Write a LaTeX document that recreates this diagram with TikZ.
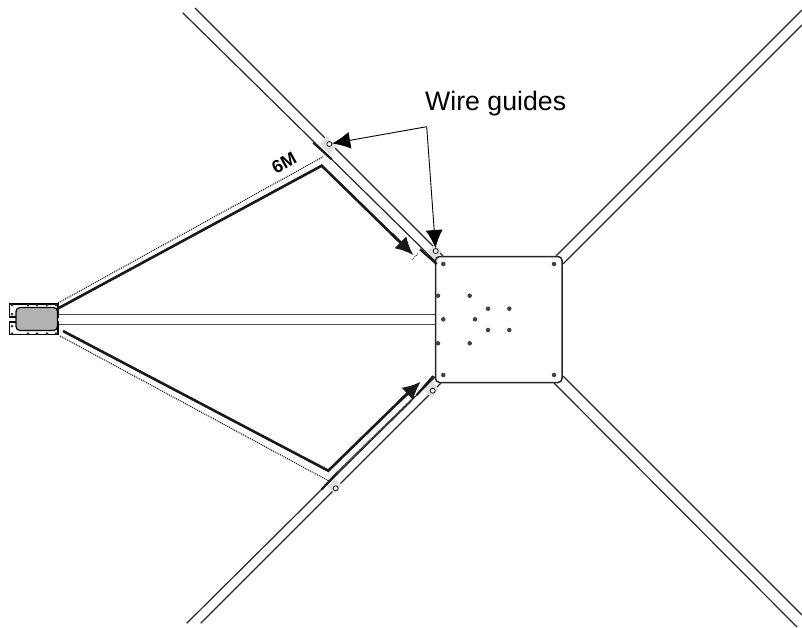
\documentclass[tikz,border=0pt]{standalone}
\usepackage{fontspec}
\setmainfont{Liberation Sans}
\usepackage{tikz}
\usetikzlibrary{arrows.meta}
\tikzset{>={Latex[width=17pt,length=18pt]}}
\tikzset{
  armline/.style={line width=1.2pt, black!85},
  thinarm/.style={line width=0.8pt, black!70},
  wireline/.style={line width=2.6pt, black!90, line join=miter},
  dotline/.style={line width=1pt, dash pattern=on 1pt off 1pt},
  tickline/.style={line width=2.2pt, black!90},
  leaderline/.style={line width=0.9pt},
  hole/.style={circle, fill=black!75, inner sep=0pt, minimum size=4.5pt},
  boxhole/.style={circle, fill=black!80, inner sep=0pt, minimum size=3pt},
  guidering/.style={circle, draw=black!85, fill=white, line width=0.9pt, inner sep=0pt, minimum size=5pt},
  guidepad/.style={line width=11pt, black!12},
}

\begin{document}
\begin{tikzpicture}[x=1pt, y=-1pt]

  \useasboundingbox (0, 0) rectangle (802, 627);

  % <arms>
  \draw[armline] (182.7, 12.7) -- (436, 262);
  \draw[armline] (195, 8) -- (443, 256);
  \draw[armline] (556, 256) -- (802, 10);
  \draw[armline] (563, 264) -- (802, 25);
  \draw[armline] (563, 376) -- (802, 615);
  \draw[armline] (554, 383) -- (797, 627);
  \draw[armline] (186.7, 623.3) -- (436, 376);
  \draw[armline] (200.7, 623.3) -- (441, 383);
  \draw[thinarm] (58, 314.7) -- (436, 314.7);
  \draw[thinarm] (58, 324.7) -- (436, 324.7);
  % </arms>

  % wire guide patches
  \draw[guidepad] (323, 140) -- (333, 150);
  \draw[guidepad] (431, 248) -- (438, 255);
  \draw[guidepad] (331, 482) -- (338, 489);
  \draw[guidepad] (428, 386) -- (435, 393);

  \coordinate (corner) at (426.7, 126.7);

  \node[guidering] (ringa) at (329.3, 144) {};
  \node[guidering] (ringb) at (435.7, 251) {};
  \node[guidering] (ringc) at (335.7, 488.3) {};
  \node[guidering] (ringd) at (432.7, 390.7) {};

  % plate
  \draw[line width=1.5pt, black!85, fill=white, rounded corners=4pt] (435.5, 256.5) rectangle (562, 382.5);
  \foreach \hx/\hy in {443.3/264, 554/264, 438/295.7, 469.7/295.7, 488/308.7, 509.3/308.7, 443.3/319.3, 475/319.3,
    488/330, 509.3/330, 438/343.3, 469.7/343.3, 443.3/375, 554/375}
    \node[hole] at (\hx, \hy) {};

  % control box
  \draw[line width=1.2pt, fill=white] (9.5, 304) rectangle (58, 317);
  \draw[line width=1.2pt, fill=white] (9.5, 322) rectangle (58, 334.5);
  \foreach \hx in {12, 28, 37, 47, 56} {
    \node[boxhole] at (\hx, 305) {};
    \node[boxhole] at (\hx, 333.5) {};
  }
  \node[boxhole] at (12, 314) {};
  \node[boxhole] at (12, 326) {};
  \draw[line width=1.2pt, fill=black!30, rounded corners=4pt] (16, 307.5) rectangle (57.5, 330.5);

  % upper wire
  \draw[dotline] (58, 303) -- (323.3, 156.7);
  \draw[tickline] (313.3, 142.7) -- (331.7, 159.3);
  \draw[wireline] (57, 309) -- (321.7, 165.7) -- (405, 247);
  \draw[wireline, ->] (392, 234) -- (413.3, 255);
  \draw[dotline, line width=0.6pt] (411.7, 260) -- (418.3, 253.3);
  \draw[tickline] (420, 249.3) -- (436.7, 264);
  \node[rotate=29, font=\fontsize{18}{18}\selectfont\bfseries] (sixm) at (284, 163) {6M};

  % lower wire
  \draw[dotline] (60, 336) -- (328.3, 480.7);
  \draw[tickline] (321.7, 489.3) -- (336.7, 473.3);
  \draw[line width=2.2pt, black!80, dash pattern=on 1.5pt off 0.5pt] (336.7, 473.3) -- (411.7, 400);
  \draw[tickline] (416.7, 395) -- (433.3, 376);
  \draw[wireline] (63, 331) -- (328.3, 470.7) -- (412, 389);
  \draw[wireline, ->] (398, 402.5) -- (420.7, 381.7);

  % labels
  \node[font=\fontsize{26.7}{26.7}\selectfont, anchor=base west, inner sep=0pt] (guides) at (425, 110) {Wire guides};
  \draw[leaderline, ->] (corner) -- (ringa);
  \draw[leaderline, ->] (corner) -- (ringb);

\end{tikzpicture}
\end{document}
